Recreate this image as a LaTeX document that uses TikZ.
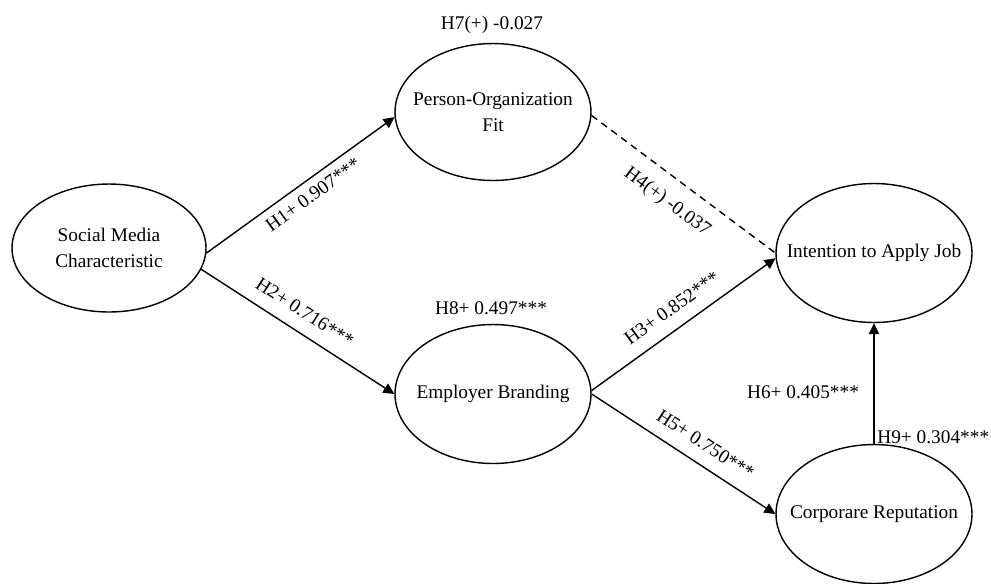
\documentclass[tikz,border=0pt]{standalone}
\usepackage{fontspec}
\setmainfont{Liberation Serif}
\usepackage{tikz}
\usetikzlibrary{
    arrows.meta,
    positioning,
    shapes.geometric
}
\tikzset{
  construct/.style = {draw, ellipse, line width=0.8pt, minimum width=3.92cm,
                      minimum height=2.78cm, align=center,
                      inner xsep=-22pt, inner ysep=1pt},
  coef/.style      = {font=\fontsize{11}{15}\selectfont}
}

\begin{document}
\begin{tikzpicture}[
    x=0.02cm, y=-0.02cm,
    font=\fontsize{11}{15}\selectfont,
    arr/.style={-{Triangle[length=2.2mm,width=2.1mm]}, line width=0.8pt},
    dsh/.style={dashed, line width=0.8pt, dash pattern=on 4pt off 3pt}
]
\useasboundingbox (0,0) rectangle (991,583);

% Constructs
\node[construct, minimum width=3.88cm, minimum height=2.56cm] (smc) at (109,248) {Social Media\\Characteristic};
\node[construct, minimum height=2.74cm] (pof) at (493,112) {Person-Organization\\Fit};
\node[construct] (eb)  at (493,394) {Employer Branding};
\node[construct] (ita) at (874,253) {Intention to Apply Job};
\node[construct] (cr)  at (874,514) {Corporare Reputation};

% Paths
\draw[arr] (smc.-3) -- node[coef, sloped, below=1pt, pos=0.52] {H1+ 0.907***} (pof.183);
\draw[arr] (smc.-13) -- node[coef, sloped, above=4pt, pos=0.48] {H2+ 0.716***} (eb.west);
\draw[dsh] (pof.-2) -- node[coef, sloped, below=5pt, pos=0.49] {H4(+) -0.037} (ita.west);
\draw[arr] (eb.2) -- node[coef, sloped, above=4pt, pos=0.5] {H3+ 0.852***} (ita.183);
\draw[arr] (eb.east) -- node[coef, sloped, above=4pt, pos=0.56] {H5+ 0.750***} (cr.west);
\draw[arr] (cr.north) -- (ita.south);

% Indirect effects
\node[coef] (h7) at (492,25) {H7(+) -0.027};
\node[coef] (h8) at (491,308) {H8+ 0.497***};
\node[coef] (h6) at (803,392) {H6+ 0.405***};
\node[coef, anchor=west, inner sep=0pt] (h9) at (877,437) {H9+ 0.304***};
\end{tikzpicture}
\end{document}
